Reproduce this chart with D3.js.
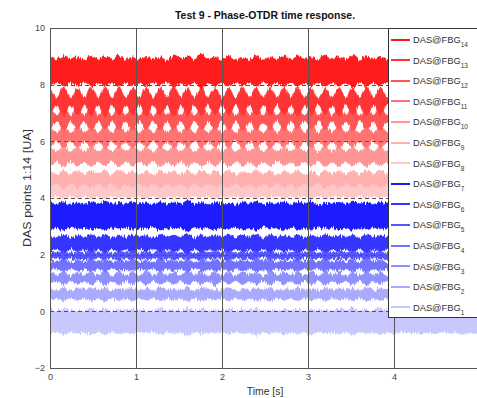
<!DOCTYPE html>
<html><head><meta charset="utf-8">
<script src="https://cdn.jsdelivr.net/npm/d3@7"></script>
<style>
body{margin:0;background:#fff;}
svg{display:block;font-family:"Liberation Sans",Arial,Helvetica,sans-serif;}
</style>
</head><body>
<svg id="chart" width="477" height="398"></svg>
<script>
const sampleStep = 0.08;
const xTicks = [0, 1, 2, 3, 4];
const yTicks = [-2, 0, 2, 4, 6, 8, 10];
const fbgIndex = [1,2,3,4,5,6,7,8,9,10,11,12,13,14];
const centers = [-0.36, 0.60, 1.17, 1.62, 1.97, 2.40, 3.37, 4.28, 4.67, 5.46, 6.15, 6.81, 7.41, 8.48];
const colors = ["#c8c8ff","#aaaaff","#9090ff","#7272ff","#5454ff","#3636ff","#1a1aff",
                "#ffc8c8","#ffb0b0","#ff9494","#ff7373","#ff5555","#ff3535","#ff1a1a"];

const amp1 = [0.42,0.38,0.45,0.37,0.41,0.39,0.44,0.38, 0.47,0.37,0.42,0.39,0.43,0.38,0.40,0.37,
              0.45,0.39,0.41,0.38,0.48,0.37,0.43,0.39, 0.40,0.38,0.44,0.37,0.42,0.39,0.46,0.38,
              0.41,0.37,0.44,0.39,0.42,0.38,0.45,0.37, 0.40,0.39,0.43,0.38,0.47,0.37,0.41,0.39,
              0.44,0.38,0.42,0.37,0.40,0.39,0.45,0.38, 0.43,0.37,0.41,0.39,0.46,0.38,0.42,0.37];
const amp2 = [0.21,0.14,0.23,0.13,0.20,0.15,0.22,0.14, 0.24,0.13,0.21,0.15,0.22,0.14,0.20,0.13,
              0.23,0.15,0.21,0.14,0.24,0.13,0.22,0.15, 0.20,0.14,0.23,0.13,0.21,0.15,0.22,0.14,
              0.24,0.13,0.20,0.15,0.22,0.14,0.21,0.13, 0.23,0.15,0.20,0.14,0.22,0.13,0.24,0.15,
              0.21,0.14,0.23,0.13,0.20,0.15,0.22,0.14, 0.21,0.13,0.23,0.15,0.22,0.14,0.20,0.13];
const amp3 = [0.22,0.09,0.24,0.08,0.21,0.10,0.23,0.09, 0.25,0.08,0.22,0.10,0.21,0.09,0.24,0.08,
              0.23,0.10,0.21,0.09,0.25,0.08,0.22,0.10, 0.24,0.09,0.21,0.08,0.23,0.10,0.22,0.09,
              0.25,0.08,0.21,0.10,0.23,0.09,0.22,0.08, 0.24,0.10,0.21,0.09,0.23,0.08,0.25,0.10,
              0.22,0.09,0.24,0.08,0.21,0.10,0.23,0.09, 0.22,0.08,0.24,0.10,0.21,0.09,0.23,0.08];
const amp4 = [0.19,0.12,0.21,0.11,0.18,0.13,0.20,0.12, 0.22,0.11,0.19,0.13,0.20,0.12,0.18,0.11,
              0.21,0.13,0.19,0.12,0.22,0.11,0.20,0.13, 0.18,0.12,0.21,0.11,0.19,0.13,0.20,0.12,
              0.22,0.11,0.18,0.13,0.20,0.12,0.19,0.11, 0.21,0.13,0.18,0.12,0.20,0.11,0.22,0.13,
              0.19,0.12,0.21,0.11,0.18,0.13,0.20,0.12, 0.19,0.11,0.21,0.13,0.20,0.12,0.18,0.11];
const amp5 = [0.12,0.10,0.14,0.09,0.13,0.11,0.15,0.10, 0.12,0.09,0.14,0.11,0.13,0.10,0.12,0.09,
              0.15,0.11,0.13,0.10,0.12,0.09,0.14,0.11, 0.13,0.10,0.15,0.09,0.12,0.11,0.14,0.10,
              0.13,0.09,0.12,0.11,0.15,0.10,0.13,0.09, 0.14,0.11,0.12,0.10,0.13,0.09,0.15,0.11,
              0.12,0.10,0.14,0.09,0.13,0.11,0.12,0.10, 0.15,0.09,0.13,0.11,0.14,0.10,0.12,0.09];
const amp6 = [0.29,0.21,0.31,0.20,0.28,0.22,0.30,0.21, 0.32,0.20,0.29,0.22,0.30,0.21,0.28,0.20,
              0.31,0.22,0.29,0.21,0.33,0.20,0.30,0.22, 0.28,0.21,0.31,0.20,0.29,0.22,0.30,0.21,
              0.32,0.20,0.28,0.22,0.30,0.21,0.29,0.20, 0.31,0.22,0.28,0.21,0.30,0.20,0.32,0.22,
              0.29,0.21,0.31,0.20,0.28,0.22,0.30,0.21, 0.29,0.20,0.31,0.22,0.30,0.21,0.28,0.20];
const amp7 = [0.47,0.42,0.50,0.41,0.46,0.43,0.49,0.40, 0.52,0.42,0.47,0.41,0.48,0.43,0.45,0.40,
              0.50,0.42,0.46,0.41,0.54,0.43,0.47,0.40, 0.49,0.42,0.45,0.41,0.48,0.43,0.51,0.40,
              0.46,0.42,0.49,0.41,0.47,0.43,0.50,0.40, 0.45,0.42,0.48,0.41,0.52,0.43,0.46,0.40,
              0.49,0.42,0.47,0.41,0.45,0.43,0.50,0.40, 0.48,0.42,0.46,0.41,0.51,0.43,0.47,0.40];
const amp8 = [0.27,0.23,0.29,0.22,0.26,0.24,0.28,0.23, 0.30,0.22,0.27,0.24,0.26,0.23,0.29,0.22,
              0.28,0.24,0.26,0.23,0.30,0.22,0.27,0.24, 0.29,0.23,0.26,0.22,0.28,0.24,0.27,0.23,
              0.26,0.22,0.29,0.24,0.27,0.23,0.30,0.22, 0.28,0.24,0.26,0.23,0.29,0.22,0.27,0.24,
              0.26,0.23,0.28,0.22,0.30,0.24,0.27,0.23, 0.29,0.22,0.26,0.24,0.28,0.23,0.27,0.22];
const amp9 = [0.30,0.16,0.32,0.15,0.29,0.17,0.31,0.16, 0.29,0.15,0.32,0.17,0.30,0.16,0.28,0.15,
              0.31,0.17,0.29,0.16,0.32,0.15,0.30,0.17, 0.28,0.16,0.31,0.15,0.29,0.17,0.32,0.16,
              0.30,0.15,0.28,0.17,0.31,0.16,0.29,0.15, 0.32,0.17,0.30,0.16,0.28,0.15,0.31,0.17,
              0.29,0.16,0.32,0.15,0.30,0.17,0.28,0.16, 0.31,0.15,0.29,0.17,0.32,0.16,0.30,0.15];
const amp10 = [0.34,0.18,0.36,0.17,0.33,0.19,0.35,0.18, 0.33,0.17,0.36,0.19,0.34,0.18,0.32,0.17,
               0.35,0.19,0.33,0.18,0.36,0.17,0.34,0.19, 0.32,0.18,0.35,0.17,0.33,0.19,0.36,0.18,
               0.34,0.17,0.32,0.19,0.35,0.18,0.33,0.17, 0.36,0.19,0.34,0.18,0.32,0.17,0.35,0.19,
               0.33,0.18,0.36,0.17,0.34,0.19,0.32,0.18, 0.35,0.17,0.33,0.19,0.36,0.18,0.34,0.17];
const amp11 = [0.37,0.15,0.39,0.14,0.36,0.16,0.38,0.15, 0.40,0.14,0.37,0.16,0.39,0.15,0.36,0.14,
               0.38,0.16,0.40,0.15,0.37,0.14,0.39,0.16, 0.36,0.15,0.38,0.14,0.40,0.16,0.37,0.15,
               0.39,0.14,0.36,0.16,0.38,0.15,0.40,0.14, 0.37,0.16,0.39,0.15,0.36,0.14,0.38,0.16,
               0.40,0.15,0.37,0.14,0.39,0.16,0.36,0.15, 0.38,0.14,0.40,0.16,0.37,0.15,0.39,0.14];
const amp12 = [0.40,0.10,0.42,0.09,0.38,0.11,0.41,0.10, 0.39,0.09,0.43,0.11,0.40,0.10,0.37,0.09,
               0.41,0.11,0.39,0.10,0.42,0.09,0.40,0.11, 0.38,0.10,0.41,0.09,0.43,0.11,0.39,0.10,
               0.40,0.09,0.42,0.11,0.38,0.10,0.41,0.09, 0.39,0.11,0.40,0.10,0.43,0.09,0.38,0.11,
               0.41,0.10,0.39,0.09,0.42,0.11,0.40,0.10, 0.38,0.09,0.41,0.11,0.40,0.10,0.42,0.09];
const amp13 = [0.48,0.13,0.51,0.12,0.47,0.14,0.50,0.13, 0.52,0.12,0.49,0.14,0.46,0.13,0.51,0.12,
               0.48,0.14,0.53,0.13,0.47,0.12,0.50,0.14, 0.49,0.13,0.46,0.12,0.51,0.14,0.48,0.13,
               0.50,0.12,0.47,0.14,0.52,0.13,0.49,0.12, 0.46,0.14,0.50,0.13,0.48,0.12,0.51,0.14,
               0.47,0.13,0.49,0.12,0.52,0.14,0.48,0.13, 0.50,0.12,0.47,0.14,0.51,0.13,0.49,0.12];
const amp14 = [0.50,0.41,0.52,0.40,0.49,0.39,0.53,0.42, 0.51,0.40,0.55,0.41,0.50,0.43,0.52,0.40,
               0.49,0.38,0.54,0.42,0.51,0.41,0.60,0.43, 0.50,0.40,0.53,0.41,0.49,0.42,0.52,0.39,
               0.50,0.41,0.54,0.40,0.51,0.42,0.49,0.40, 0.53,0.41,0.50,0.43,0.56,0.40,0.51,0.41,
               0.52,0.39,0.50,0.42,0.53,0.40,0.49,0.41, 0.52,0.43,0.50,0.40,0.54,0.41,0.51,0.42];
const amps = [amp1,amp2,amp3,amp4,amp5,amp6,amp7,amp8,amp9,amp10,amp11,amp12,amp13,amp14];

// ---- layout ----
const svg = d3.select("#chart");
const x = d3.scaleLinear().domain([0, 5]).range([50, 480]);
const y = d3.scaleLinear().domain([-2, 10]).range([368, 28]);

const defs = svg.append("defs");
defs.append("clipPath").attr("id", "plotclip")
  .append("rect").attr("x", 50).attr("y", 28).attr("width", 430).attr("height", 340);

// rendering style: rough, noisy edges like a dense raw signal trace
const rough = defs.append("filter").attr("id", "rough")
  .attr("x", "-5%").attr("y", "-5%").attr("width", "110%").attr("height", "110%");
rough.append("feTurbulence").attr("type", "fractalNoise")
  .attr("baseFrequency", "0.7 0.06").attr("numOctaves", 2).attr("seed", 3).attr("result", "n");
rough.append("feColorMatrix").attr("in", "n").attr("type", "matrix")
  .attr("values", "0 0 0 0 0.5  0 1 0 0 0  0 0 0 0 0  0 0 0 0 1").attr("result", "m");
rough.append("feDisplacementMap").attr("in", "SourceGraphic").attr("in2", "m")
  .attr("scale", 7).attr("xChannelSelector", "R").attr("yChannelSelector", "G");

const plot = svg.append("g").attr("clip-path", "url(#plotclip)")
  .append("g").attr("filter", "url(#rough)");

fbgIndex.forEach((k, i) => {
  const c = centers[i];
  const area = d3.area()
    .x((d, j) => x(j * sampleStep))
    .y0(d => y(c - d))
    .y1(d => y(c + d))
    .curve(d3.curveCatmullRom);
  plot.append("path")
    .datum(amps[i])
    .attr("d", area)
    .attr("fill", colors[i])
    .attr("stroke", colors[i])
    .attr("stroke-width", 0.6);
});

// grid (drawn on top as in the original)
const grid = svg.append("g").attr("shape-rendering", "crispEdges");
grid.selectAll("line.v").data(xTicks.filter(d => d > 0)).join("line")
  .attr("x1", d => Math.round(x(d)) + 0.5).attr("x2", d => Math.round(x(d)) + 0.5)
  .attr("y1", y(10)).attr("y2", y(-2))
  .attr("stroke", "#555").attr("stroke-width", 1);
grid.selectAll("line.h").data(yTicks.filter(d => d > -2 && d < 10)).join("line")
  .attr("x1", 50).attr("x2", 480)
  .attr("y1", d => Math.round(y(d)) + 0.5).attr("y2", d => Math.round(y(d)) + 0.5)
  .attr("stroke", "#555").attr("stroke-width", 1).attr("stroke-dasharray", "4,3");

// axes box
svg.append("rect").attr("x", 50.5).attr("y", 28.5).attr("width", 430).attr("height", 339.5)
  .attr("fill", "none").attr("stroke", "#555").attr("stroke-width", 1)
  .attr("shape-rendering", "crispEdges");

// axes tick labels
const yAxis = d3.axisLeft(y).tickValues(yTicks).tickFormat(d3.format("d")).tickSize(0).tickPadding(5);
const gy = svg.append("g").attr("transform", "translate(50,0)").call(yAxis);
const xAxis = d3.axisBottom(x).tickValues(xTicks).tickFormat(d3.format("d")).tickSize(0).tickPadding(6);
const gx = svg.append("g").attr("transform", "translate(0,368)").call(xAxis);
[gx, gy].forEach(g => {
  g.select(".domain").remove();
  g.selectAll("text").attr("font-size", 9).attr("fill", "#444")
    .attr("font-family", '"Liberation Sans",Arial,sans-serif');
});

// title and axis labels
svg.append("text").attr("x", 265).attr("y", 18.5).attr("text-anchor", "middle")
  .attr("font-size", 10.5).attr("font-weight", "bold").attr("fill", "#111")
  .text("Test 9 - Phase-OTDR time response.");
svg.append("text").attr("x", 265).attr("y", 395).attr("text-anchor", "middle")
  .attr("font-size", 10.4).attr("fill", "#333").text("Time [s]");
svg.append("text").attr("transform", "translate(31,188) rotate(-90)").attr("text-anchor", "middle")
  .attr("font-size", 11).attr("fill", "#333")
  .attr("textLength", 118).attr("lengthAdjust", "spacingAndGlyphs")
  .text("DAS points 1:14 [UA]");

// legend
const leg = svg.append("g");
leg.append("rect").attr("x", 388.5).attr("y", 28.5).attr("width", 100).attr("height", 288.5)
  .attr("fill", "#fff").attr("stroke", "#333").attr("stroke-width", 1)
  .attr("shape-rendering", "crispEdges");
const legOrder = fbgIndex.slice().reverse();
legOrder.forEach((k, r) => {
  const yy = 39.5 + r * 20.6;
  const i = k - 1;
  leg.append("line").attr("x1", 391).attr("x2", 410)
    .attr("y1", Math.round(yy)).attr("y2", Math.round(yy))
    .attr("stroke", colors[i]).attr("stroke-width", 2);
  const t = leg.append("text").attr("x", 413).attr("y", yy + 3.4)
    .attr("font-size", 9.3).attr("fill", "#333");
  t.append("tspan").text("DAS@FBG");
  t.append("tspan").attr("font-size", 6.5).attr("dy", 4).text(k);
});
</script>
</body></html>
